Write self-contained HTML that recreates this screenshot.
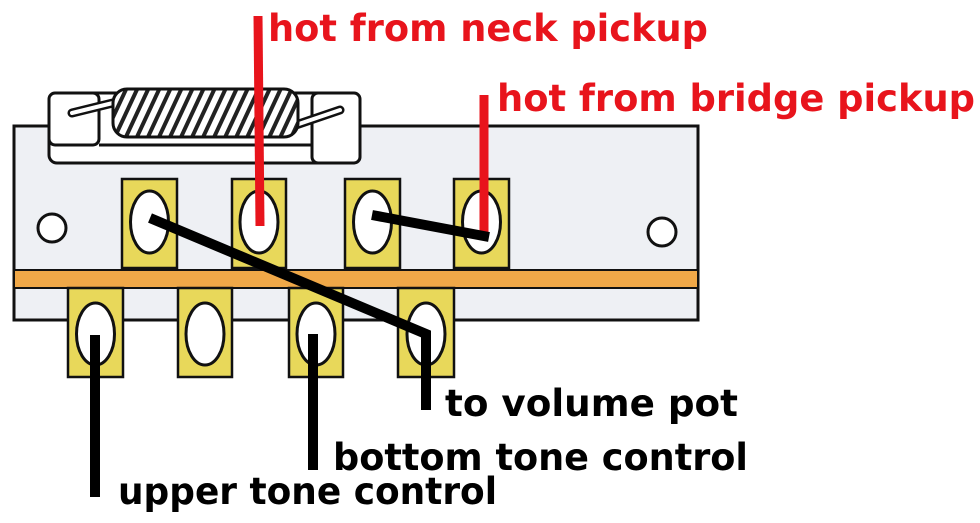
<!DOCTYPE html>
<html><head><style>body{margin:0;background:#fff}svg{display:block}</style></head>
<body>
<svg width="980" height="523" viewBox="0 0 980 523" xmlns="http://www.w3.org/2000/svg">
<defs>
<pattern id="coil" width="10" height="10" patternUnits="userSpaceOnUse" patternTransform="rotate(25)">
<rect width="10" height="10" fill="#fff"/><rect width="4" height="10" fill="#222"/>
</pattern>
</defs>
<rect x="14" y="126" width="684" height="194" fill="#eef0f4" stroke="#111" stroke-width="3"/>
<rect x="14" y="270" width="684" height="18" fill="#f0a848" stroke="#111" stroke-width="2"/>
<rect x="49" y="93" width="311" height="70" rx="8" fill="#fff" stroke="#111" stroke-width="3"/>
<rect x="49" y="93" width="50" height="52" rx="6" fill="#fff" stroke="#111" stroke-width="3"/>
<rect x="312" y="93" width="48" height="70" rx="6" fill="#fff" stroke="#111" stroke-width="3"/>
<line x1="99" y1="145" x2="312" y2="145" stroke="#111" stroke-width="3"/>
<line x1="72" y1="113" x2="125" y2="100" stroke="#111" stroke-width="9" stroke-linecap="round"/>
<line x1="72" y1="113" x2="125" y2="100" stroke="#fff" stroke-width="4" stroke-linecap="round"/>
<line x1="290" y1="127" x2="340" y2="110" stroke="#111" stroke-width="9" stroke-linecap="round"/>
<line x1="290" y1="127" x2="340" y2="110" stroke="#fff" stroke-width="4" stroke-linecap="round"/>
<rect x="113" y="89" width="185" height="48" rx="14" fill="url(#coil)" stroke="#111" stroke-width="3"/>
<circle cx="52" cy="228" r="14" fill="#fff" stroke="#111" stroke-width="3"/>
<circle cx="662" cy="232" r="14" fill="#fff" stroke="#111" stroke-width="3"/>
<g fill="#e8d85a" stroke="#111" stroke-width="2.5">
<rect x="122" y="179" width="55" height="89"/>
<rect x="232" y="179" width="54" height="89"/>
<rect x="345" y="179" width="55" height="89"/>
<rect x="454" y="179" width="55" height="89"/>
<rect x="68" y="288" width="55" height="89"/>
<rect x="178" y="288" width="54" height="89"/>
<rect x="289" y="288" width="54" height="89"/>
<rect x="398" y="288" width="56" height="89"/>
</g>
<g fill="#fff" stroke="#111" stroke-width="3">
<ellipse cx="149.5" cy="222" rx="19" ry="31"/>
<ellipse cx="259" cy="222" rx="19" ry="31"/>
<ellipse cx="372.5" cy="222" rx="19" ry="31"/>
<ellipse cx="481.5" cy="222" rx="19" ry="31"/>
<ellipse cx="95.5" cy="334" rx="19" ry="31"/>
<ellipse cx="205" cy="334" rx="19" ry="31"/>
<ellipse cx="316" cy="334" rx="19" ry="31"/>
<ellipse cx="426" cy="334" rx="19" ry="31"/>
</g>
<line x1="258" y1="16" x2="260" y2="226" stroke="#e8141c" stroke-width="9"/>
<line x1="484" y1="95" x2="484" y2="235" stroke="#e8141c" stroke-width="9"/>
<polyline points="150,218 426,334 426,410" fill="none" stroke="#000" stroke-width="10" stroke-linejoin="miter"/>
<line x1="372" y1="215" x2="489" y2="237" stroke="#000" stroke-width="10"/>
<line x1="95" y1="335" x2="95" y2="497" stroke="#000" stroke-width="10"/>
<line x1="313" y1="334" x2="313" y2="470" stroke="#000" stroke-width="10"/>
<g font-family="'DejaVu Sans','Liberation Sans',sans-serif" font-weight="bold" font-size="37">
<text x="268" y="41" fill="#e8141c" textLength="440" lengthAdjust="spacingAndGlyphs">hot from neck pickup</text>
<text x="497" y="111" fill="#e8141c" textLength="478" lengthAdjust="spacingAndGlyphs">hot from bridge pickup</text>
<text x="445" y="416" fill="#000" textLength="293" lengthAdjust="spacingAndGlyphs">to volume pot</text>
<text x="333" y="470" fill="#000" textLength="415" lengthAdjust="spacingAndGlyphs">bottom tone control</text>
<text x="118" y="504" fill="#000" textLength="379" lengthAdjust="spacingAndGlyphs">upper tone control</text>
</g>
</svg>
</body></html>
